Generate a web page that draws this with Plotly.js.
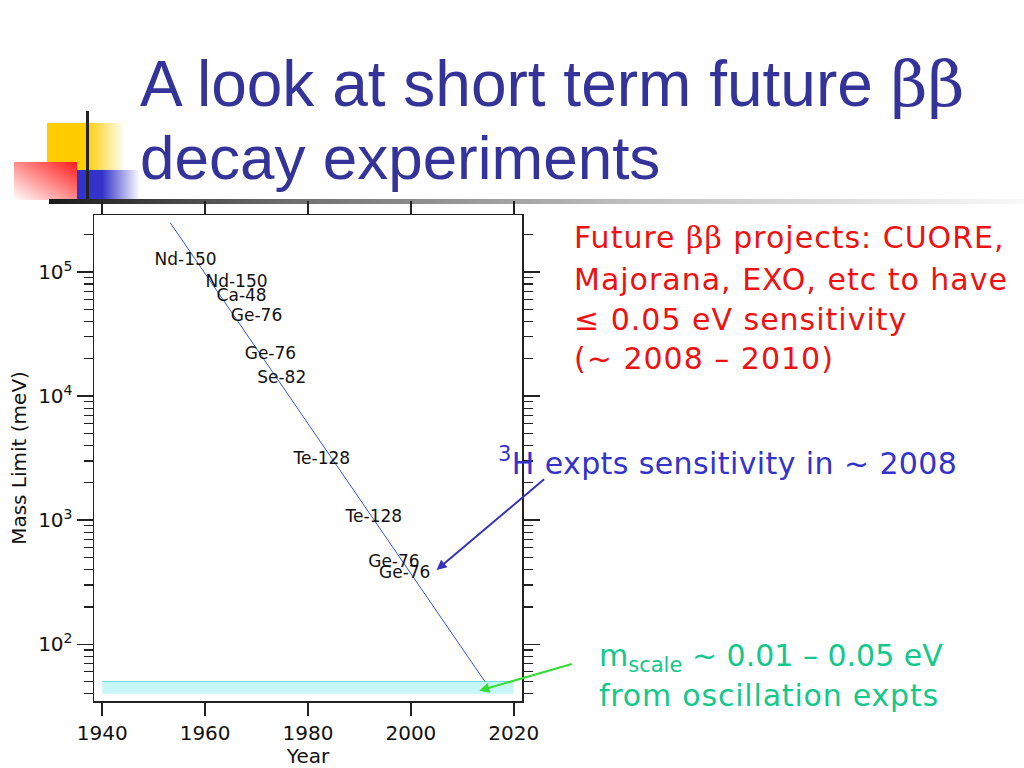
<!DOCTYPE html>
<html>
<head>
<meta charset="utf-8">
<script src="https://cdn.plot.ly/plotly-3.0.1.min.js"></script>
<style>html,body{margin:0;padding:0;background:#fff;}#chart{width:1024px;height:768px;}</style>
</head>
<body>
<div id="chart"></div>
<script>
// ---- data ----
const fitYears = [1953.2, 2014.4];
const fitMassLimit = [2.5e5, 50];
const isotopes = ['Nd-150','Nd-150','Ca-48','Ge-76','Ge-76','Se-82','Te-128','Te-128','Ge-76','Ge-76'];
const isoYears = [1956.2, 1966.1, 1967.1, 1970.0, 1972.7, 1974.9, 1982.7, 1992.8, 1996.7, 1998.8];
const isoLimits = [1.23e5, 8.15e4, 6.29e4, 4.34e4, 2.14e4, 1.37e4, 3050, 1040, 452, 368];
const bandYears = [1940, 2020];
const bandLow = [40, 40];
const bandHigh = [50, 50];
const xTickVals = [1940, 1960, 1980, 2000, 2020];
const yTickVals = [100, 1000, 10000, 100000];
const yTickText = ['10<sup>2</sup>', '10<sup>3</sup>', '10<sup>4</sup>', '10<sup>5</sup>'];
const titleLines = ['A look at short term future <span style="font-family:\'DejaVu Serif\'">ββ</span>', 'decay experiments'];
const redLines = ['Future <span style="font-family:\'DejaVu Serif\'">ββ</span> projects: CUORE,', 'Majorana, EXO, etc to have', '≤ 0.05 eV sensitivity', '(~ 2008 – 2010)'];
const blueText = '<sup>3</sup>H expts sensitivity in ~ 2008';
const greenLines = ['m<sub>scale</sub> ~ 0.01 – 0.05 eV', 'from oscillation expts'];

// ---- geometry helpers (page pixels -> paper coords) ----
const ML = 94, MR = 502, MT = 215, MB = 67;
const PW = 1024 - ML - MR, PH = 768 - MT - MB;
const px = x => (x - ML) / PW;
const py = y => (768 - MB - y) / PH;
const spaced = (t, s) => '<span style="letter-spacing:' + s + 'px">' + t + '</span>';

const svg = `<svg xmlns='http://www.w3.org/2000/svg' width='1024' height='768'>
<defs>
<linearGradient id='gy' x1='0' x2='1' y1='0' y2='0'><stop offset='0' stop-color='#ffcc00'/><stop offset='0.5' stop-color='#ffcc00'/><stop offset='1' stop-color='#ffcc00' stop-opacity='0'/></linearGradient>
<linearGradient id='gr' x1='0' y1='1' x2='1' y2='0'><stop offset='0' stop-color='#ffffff'/><stop offset='1' stop-color='#ff1a1a'/></linearGradient>
<linearGradient id='gb' x1='0' x2='1' y1='0' y2='0'><stop offset='0' stop-color='#3333cc'/><stop offset='0.4' stop-color='#3333cc'/><stop offset='1' stop-color='#3333cc' stop-opacity='0'/></linearGradient>
<linearGradient id='gh' x1='0' x2='1' y1='0' y2='0'><stop offset='0' stop-color='#1a1a1a'/><stop offset='0.25' stop-color='#707070'/><stop offset='0.6' stop-color='#c0c0c0'/><stop offset='1' stop-color='#f8f8f8'/></linearGradient>
</defs>
<rect x='47' y='123' width='78' height='47' fill='url(#gy)'/>
<rect x='14' y='162' width='63' height='38' fill='url(#gr)'/>
<rect x='77' y='170' width='63' height='30' fill='url(#gb)'/>
<rect x='86' y='111' width='3' height='90' fill='#222'/>
<rect x='49' y='199' width='975' height='5' fill='url(#gh)'/>
</svg>`;
const svgUri = 'data:image/svg+xml;charset=utf-8,' + encodeURIComponent(svg);

const axisFont = {family: 'DejaVu Sans', size: 20, color: '#111'};
const handFont = 'DejaVu Sans';

const traces = [
  {x: bandYears, y: bandLow, type: 'scatter', mode: 'lines', line: {width: 0, color: '#c8f7f7'}, hoverinfo: 'skip', showlegend: false},
  {x: bandYears, y: bandHigh, type: 'scatter', mode: 'lines', fill: 'tonexty', fillcolor: '#c8f7f7', line: {width: 1, color: '#66dede'}, hoverinfo: 'skip', showlegend: false},
  {x: fitYears, y: fitMassLimit, type: 'scatter', mode: 'lines', line: {width: 1, color: '#3355dd'}, showlegend: false},
  {x: isoYears, y: isoLimits, text: isotopes, type: 'scatter', mode: 'text', textposition: 'middle center', textfont: {family: 'DejaVu Sans', size: 17, color: '#111'}, showlegend: false}
];

const annotations = [];
titleLines.forEach((t, i) => annotations.push({text: t, xref: 'paper', yref: 'paper', x: px(138), y: py([84, 158][i]), xanchor: 'left', yanchor: 'middle', showarrow: false, font: {family: 'Liberation Sans', size: [64, 62][i], color: '#333399'}}));
redLines.forEach((t, i) => annotations.push({text: spaced(t, 1), xref: 'paper', yref: 'paper', x: px(572), y: py([238, 279, 319, 358][i]), xanchor: 'left', yanchor: 'middle', showarrow: false, font: {family: handFont, size: 30, color: '#ee1111'}}));
annotations.push({text: spaced(blueText, 0.4), xref: 'paper', yref: 'paper', x: px(496), y: py(461), xanchor: 'left', yanchor: 'middle', showarrow: false, font: {family: handFont, size: 30, color: '#3333cc'}});
greenLines.forEach((t, i) => annotations.push({text: spaced(t, [0, 0.8][i]), xref: 'paper', yref: 'paper', x: px(597), y: py([657, 695][i]), xanchor: 'left', yanchor: 'middle', showarrow: false, font: {family: handFont, size: 30, color: '#14c88c'}}));
// arrows
annotations.push({text: '', x: 2005.0, y: Math.log10(397), xref: 'x', yref: 'y', showarrow: true, ax: 109, ay: -92, arrowcolor: '#3333bb', arrowwidth: 2, arrowhead: 2, arrowsize: 1});
annotations.push({text: '', x: 2013.3, y: Math.log10(42.3), xref: 'x', yref: 'y', showarrow: true, ax: 94, ay: -27, arrowcolor: '#33dd33', arrowwidth: 2, arrowhead: 2, arrowsize: 1});

const layout = {
  width: 1024, height: 768,
  margin: {l: ML, r: MR, t: MT, b: MB, pad: 0},
  paper_bgcolor: '#ffffff', plot_bgcolor: 'rgba(0,0,0,0)',
  showlegend: false,
  xaxis: {
    range: [1938.4, 2021.6], tickvals: xTickVals, ticks: 'outside', ticklen: 13, tickwidth: 1.5, tickcolor: '#222',
    showline: true, linecolor: '#222', linewidth: 1.5, mirror: 'ticks', showgrid: false, zeroline: false,
    tickfont: axisFont, title: {text: 'Year', font: {family: 'DejaVu Sans', size: 20, color: '#111'}, standoff: 6}
  },
  yaxis: {
    type: 'log', range: [Math.log10(34.9), Math.log10(2.88e5)], tickvals: yTickVals, ticktext: yTickText,
    ticks: 'outside', ticklen: 16, tickwidth: 1.5, tickcolor: '#222',
    minor: {ticks: 'outside', ticklen: 9, tickwidth: 1.2, tickcolor: '#222', dtick: 'D1', showgrid: false},
    showline: true, linecolor: '#222', linewidth: 1.5, mirror: 'ticks', showgrid: false, zeroline: false,
    tickfont: axisFont, title: {text: 'Mass Limit (meV)', font: {family: 'DejaVu Sans', size: 20, color: '#111'}, standoff: 6}
  },
  images: [{source: svgUri, xref: 'paper', yref: 'paper', x: px(0), y: py(0), sizex: 1024 / PW, sizey: 768 / PH, xanchor: 'left', yanchor: 'top', sizing: 'stretch', layer: 'below'}],
  annotations: annotations
};

Plotly.newPlot('chart', traces, layout, {displayModeBar: false, staticPlot: true});
</script>
</body>
</html>
